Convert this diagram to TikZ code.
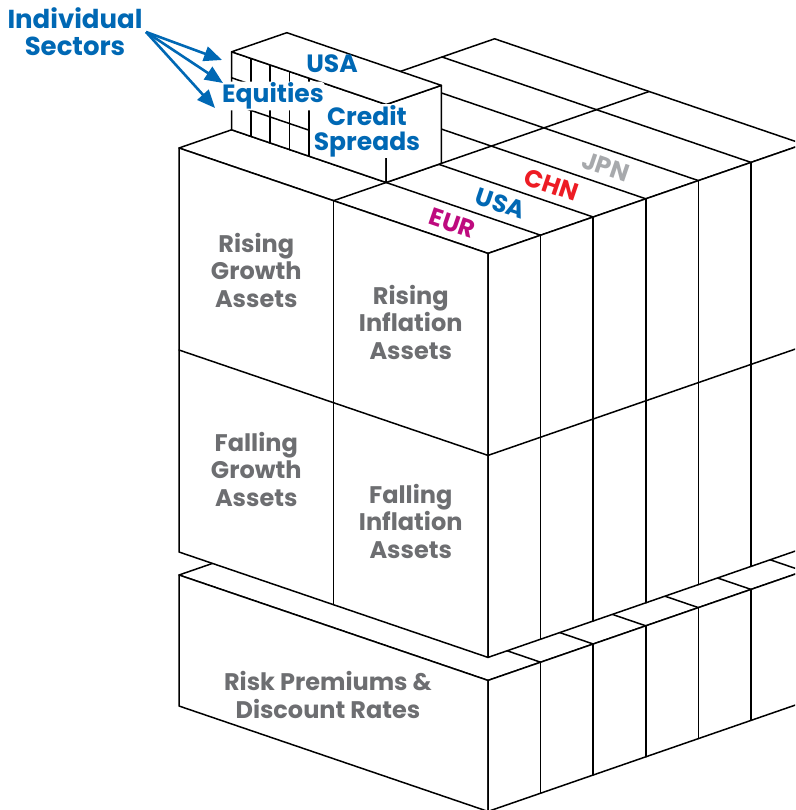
\documentclass[tikz,border=0pt]{standalone}
\usepackage{fontspec}
\setmainfont{Poppins}
\usepackage{tikz}
\usetikzlibrary{arrows.meta}

\definecolor{sectorblue}{RGB}{0,104,180}
\definecolor{assetgray}{RGB}{109,110,113}
\definecolor{eurmagenta}{RGB}{190,10,126}
\definecolor{chnred}{RGB}{237,28,36}
\definecolor{jpngray}{RGB}{167,169,172}

\begin{document}
\begin{tikzpicture}[
    x={(154.5pt,-52.7pt)}, y={(52.6pt,18.2pt)}, z={(0pt,1pt)},
    edge/.style={line width=1.5pt, line join=round, line cap=round},
    face/.style={edge, fill=white},
    assetlabel/.style={font=\bfseries\fontsize{24}{27.5}\selectfont, text=assetgray, align=center},
    countrylabel/.style={font=\bfseries\fontsize{24.5}{26}\selectfont, rotate=-18.8, inner sep=0pt},
    sectorlabel/.style={font=\bfseries\fontsize{25}{25}\selectfont, text=sectorblue, align=center},
    halo/.style={fill=white, rounded corners=4pt, inner sep=1pt},
    pointer/.style={-{Triangle[length=18pt,width=15pt]}, line width=2.6pt, sectorblue}
]
\useasboundingbox (0pt,0pt) rectangle (795pt,-810pt);
\clip (0pt,0pt) rectangle (795pt,-810pt);

\begin{scope}[shift={(179pt,-148pt)}]
% === Base block: risk premiums ===
\draw[face] (0,0,-427) -- (2,0,-427) -- (2,6,-427) -- (0,6,-427) -- cycle;
\foreach \j in {1,...,5}
  \draw[edge] (0,\j,-427) -- (2,\j,-427);
\draw[face] (0,0,-427) -- (2,0,-427) -- (2,0,-558) -- (0,0,-558) -- cycle;
\draw[face] (2,0,-427) -- (2,6,-427) -- (2,6,-558) -- (2,0,-558) -- cycle;
\foreach \j in {1,...,5}
  \draw[edge] (2,\j,-427) -- (2,\j,-558);

% === Asset block: growth / inflation slabs by region ===
\draw[face] (0,0,0) -- (2,0,0) -- (2,6,0) -- (0,6,0) -- cycle;
\draw[edge] (1,0,0) -- (1,6,0);
\foreach \j in {1,...,5}
  \draw[edge] (0,\j,0) -- (2,\j,0);
% front face
\draw[face] (0,0,0) -- (2,0,0) -- (2,0,-404) -- (0,0,-404) -- cycle;
\draw[edge] (1,0,0) -- (1,0,-404);
\draw[edge] (0,0,-202) -- (2,0,-202);
% side face
\draw[face] (2,0,0) -- (2,6,0) -- (2,6,-404) -- (2,0,-404) -- cycle;
\foreach \j in {1,...,5}
  \draw[edge] (2,\j,0) -- (2,\j,-404);
\draw[edge] (2,0,-202) -- (2,6,-202);

% === Sector box on top of the USA slab ===
\draw[face] (0,1,0) -- (1,1,0) -- (1,1,78) -- (0,1,78) -- cycle;
\foreach \s in {0.125,0.25,0.375,0.5}
  \draw[edge] (\s,1,0) -- (\s,1,78);
\foreach \h in {26,52}
  \draw[edge] (0,1,\h) -- (0.5,1,\h);
\draw[face] (1,1,0) -- (1,2.05,0) -- (1,2.05,78) -- (1,1,78) -- cycle;
\draw[face] (0,1,78) -- (1,1,78) -- (1,2.05,78) -- (0,2.05,78) -- cycle;

% === Asset labels ===
\node[assetlabel] (risegrowth) at (0.5,0,-96) {Rising\\Growth\\Assets};
\node[assetlabel] (riseinfl) at (1.5,0,-95) {Rising\\Inflation\\Assets};
\node[assetlabel] (fallgrowth) at (0.5,0,-295) {Falling\\Growth\\Assets};
\node[assetlabel] (fallinfl) at (1.5,0,-294) {Falling\\Inflation\\Assets};
\node[assetlabel] (riskprem) at (0.964,0,-496) {Risk Premiums \&\\Discount Rates};

% === Region labels on the slabs ===
\node[countrylabel, text=eurmagenta] (eur) at (1.6,0.5,0) {EUR};
\node[countrylabel, text=sectorblue] (usa) at (1.57,1.5,0) {USA};
\node[countrylabel, text=chnred] (chn) at (1.56,2.5,0) {CHN};
\node[countrylabel, text=jpngray] (jpn) at (1.57,3.5,0) {JPN};
\end{scope}

% === Sector labels ===
\node[sectorlabel] (usabox) at (332pt,-64pt) {USA};
\node[sectorlabel, halo] (equities) at (273pt,-96pt) {Equities};
\node[sectorlabel, halo] (credit) at (367pt,-131pt) {Credit\\Spreads};
\node[sectorlabel, font=\bfseries\fontsize{26}{27}\selectfont] (sectors) at (75pt,-32pt) {Individual\\Sectors};

% === Pointers ===
\coordinate (tipa) at (222pt,-60pt);
\coordinate (tipb) at (223pt,-83pt);
\coordinate (tipc) at (215pt,-108pt);
\draw[pointer] (sectors.east) -- (tipa);
\draw[pointer] (sectors.east) -- (tipb);
\draw[pointer] (sectors.east) -- (tipc);

\end{tikzpicture}
\end{document}
